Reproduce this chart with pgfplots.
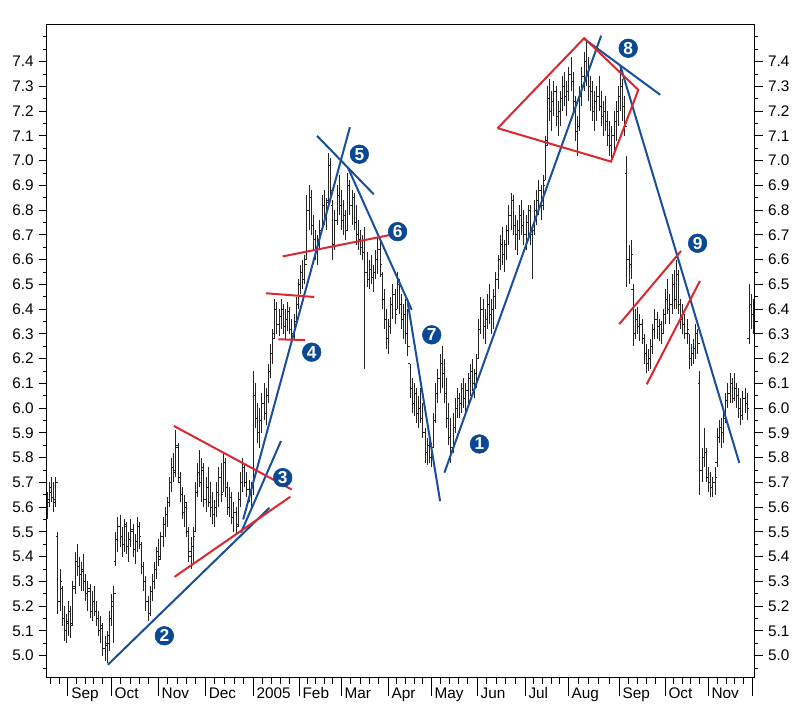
\documentclass[border=0pt]{standalone}
\usepackage{fontspec}
\setmainfont{Liberation Sans}
\usepackage{pgfplots}
\usepackage{pgfplotstable}
\pgfplotsset{compat=1.18}
\definecolor{lblue}{RGB}{24,78,154}
\definecolor{cblue}{RGB}{10,72,148}
\definecolor{lred}{RGB}{218,40,48}
\definecolor{barc}{RGB}{35,35,35}

\pgfplotstableread{
d h l o c
0 5.66 5.55 5.58 5.63
1 5.70 5.60 5.62 5.68
2 5.72 5.62 5.66 5.64
3 5.70 5.58 5.64 5.62
4 5.72 5.60 5.63 5.70
5 5.50 5.17 5.48 5.22
6 5.35 5.18 5.22 5.30
7 5.28 5.12 5.27 5.15
8 5.20 5.06 5.15 5.10
9 5.17 5.05 5.10 5.14
10 5.22 5.08 5.13 5.18
11 5.20 5.07 5.18 5.12
12 5.30 5.12 5.13 5.27
13 5.42 5.25 5.28 5.38
14 5.45 5.32 5.38 5.36
15 5.40 5.28 5.36 5.33
16 5.38 5.26 5.33 5.35
17 5.41 5.26 5.34 5.30
18 5.33 5.22 5.30 5.25
19 5.30 5.18 5.25 5.27
20 5.29 5.15 5.26 5.18
21 5.26 5.14 5.18 5.22
22 5.28 5.16 5.22 5.18
23 5.22 5.12 5.18 5.15
24 5.18 5.08 5.15 5.10
25 5.16 5.05 5.10 5.12
26 5.13 5.00 5.11 5.03
27 5.08 4.98 5.03 5.05
28 5.10 4.97 5.04 5.08
29 5.18 5.02 5.05 5.15
30 5.25 5.12 5.15 5.22
31 5.28 5.05 5.20 5.25
32 5.50 5.36 5.38 5.47
33 5.56 5.42 5.47 5.52
34 5.57 5.44 5.52 5.48
35 5.52 5.40 5.48 5.45
36 5.55 5.42 5.45 5.53
37 5.54 5.41 5.52 5.44
38 5.50 5.38 5.44 5.47
39 5.55 5.44 5.47 5.51
40 5.53 5.40 5.50 5.43
41 5.49 5.37 5.43 5.46
42 5.56 5.42 5.46 5.52
43 5.54 5.43 5.52 5.48
44 5.46 5.33 5.45 5.36
45 5.38 5.26 5.36 5.30
46 5.32 5.18 5.30 5.22
47 5.24 5.14 5.22 5.17
48 5.28 5.16 5.17 5.26
49 5.33 5.22 5.26 5.30
50 5.38 5.27 5.30 5.35
51 5.44 5.31 5.35 5.42
52 5.47 5.36 5.42 5.39
53 5.50 5.39 5.40 5.48
54 5.56 5.44 5.48 5.53
55 5.60 5.48 5.53 5.57
56 5.64 5.52 5.57 5.62
57 5.72 5.60 5.62 5.70
58 5.80 5.66 5.70 5.76
59 5.82 5.70 5.76 5.74
60 5.91 5.72 5.75 5.85
61 5.86 5.70 5.84 5.72
62 5.74 5.62 5.70 5.65
63 5.68 5.55 5.65 5.58
64 5.65 5.52 5.58 5.62
65 5.62 5.48 5.60 5.50
66 5.52 5.38 5.50 5.42
67 5.48 5.35 5.40 5.44
68 5.52 5.37 5.44 5.48
69 5.70 5.50 5.50 5.66
70 5.78 5.64 5.66 5.74
71 5.83 5.68 5.74 5.70
72 5.80 5.62 5.70 5.76
73 5.78 5.60 5.75 5.63
74 5.72 5.58 5.63 5.68
75 5.76 5.60 5.68 5.62
76 5.70 5.56 5.62 5.60
77 5.66 5.53 5.60 5.57
78 5.63 5.52 5.57 5.60
79 5.70 5.56 5.60 5.66
80 5.76 5.60 5.66 5.72
81 5.78 5.62 5.72 5.65
82 5.82 5.66 5.66 5.78
83 5.80 5.64 5.78 5.68
84 5.70 5.57 5.68 5.60
85 5.68 5.56 5.60 5.64
86 5.66 5.53 5.64 5.56
87 5.62 5.50 5.56 5.58
88 5.60 5.49 5.58 5.52
89 5.66 5.52 5.53 5.63
90 5.74 5.60 5.63 5.70
91 5.80 5.66 5.70 5.76
92 5.78 5.68 5.76 5.70
93 5.74 5.64 5.70 5.67
94 5.71 5.62 5.67 5.66
95 5.70 5.60 5.66 5.68
96 6.15 5.65 5.68 6.05
97 6.10 5.92 6.05 5.96
98 6.02 5.86 5.96 5.90
99 6.00 5.84 5.90 5.95
100 6.06 5.90 5.95 6.02
101 6.10 5.95 6.02 5.98
102 6.08 5.93 5.98 6.05
103 6.18 6.02 6.05 6.15
104 6.26 6.12 6.15 6.22
105 6.32 6.18 6.22 6.28
106 6.44 6.28 6.30 6.40
107 6.43 6.30 6.40 6.34
108 6.40 6.29 6.34 6.37
109 6.44 6.32 6.37 6.40
110 6.42 6.30 6.40 6.33
111 6.40 6.28 6.33 6.36
112 6.43 6.31 6.36 6.39
113 6.41 6.30 6.39 6.32
114 6.36 6.27 6.32 6.30
115 6.38 6.28 6.30 6.35
116 6.45 6.33 6.35 6.42
117 6.52 6.40 6.42 6.50
118 6.58 6.46 6.50 6.55
119 6.60 6.48 6.55 6.52
120 6.62 6.50 6.52 6.58
121 6.86 6.60 6.60 6.80
122 6.90 6.72 6.80 6.85
123 6.88 6.70 6.85 6.74
124 6.78 6.64 6.74 6.68
125 6.72 6.60 6.68 6.64
126 6.70 6.58 6.64 6.68
127 6.76 6.64 6.68 6.72
128 6.86 6.72 6.72 6.82
129 6.88 6.74 6.82 6.78
130 6.85 6.72 6.78 6.83
131 7.03 6.82 6.84 6.98
132 7.01 6.84 6.98 6.88
133 6.84 6.60 6.82 6.66
134 6.80 6.64 6.66 6.76
135 6.90 6.74 6.76 6.86
136 6.94 6.78 6.86 6.82
137 6.88 6.72 6.82 6.76
138 6.84 6.70 6.76 6.78
139 6.80 6.68 6.78 6.72
140 6.95 6.72 6.72 6.90
141 6.92 6.78 6.90 6.82
142 6.88 6.74 6.82 6.85
143 6.87 6.72 6.85 6.75
144 6.82 6.66 6.75 6.70
145 6.76 6.64 6.70 6.68
146 6.72 6.62 6.68 6.65
147 6.70 6.60 6.65 6.63
148 6.73 6.16 6.63 6.55
149 6.63 6.49 6.55 6.52
150 6.60 6.48 6.52 6.56
151 6.62 6.50 6.56 6.53
152 6.58 6.47 6.53 6.55
153 6.64 6.52 6.55 6.60
154 6.69 6.54 6.60 6.64
155 6.68 6.53 6.64 6.58
156 6.55 6.40 6.54 6.44
157 6.48 6.32 6.44 6.36
158 6.40 6.24 6.36 6.28
159 6.36 6.22 6.28 6.33
160 6.45 6.30 6.33 6.42
161 6.50 6.36 6.42 6.46
162 6.48 6.34 6.46 6.38
163 6.55 6.40 6.40 6.50
164 6.52 6.38 6.50 6.42
165 6.46 6.32 6.42 6.36
166 6.42 6.28 6.36 6.38
167 6.44 6.26 6.38 6.30
168 6.40 6.21 6.30 6.25
169 6.18 6.04 6.18 6.08
170 6.12 5.98 6.08 6.02
171 6.10 5.97 6.02 6.06
172 6.08 5.94 6.06 5.98
173 6.05 5.92 5.98 6.00
174 6.08 5.94 6.00 5.96
175 6.02 5.88 5.96 5.90
176 5.92 5.78 5.90 5.82
177 5.88 5.77 5.82 5.85
178 5.90 5.78 5.85 5.80
179 5.86 5.76 5.80 5.84
180 5.98 5.84 5.84 5.95
181 6.10 5.94 5.95 6.06
182 6.16 6.02 6.06 6.12
183 6.22 6.06 6.12 6.18
184 6.25 6.08 6.18 6.14
185 6.20 6.02 6.14 6.06
186 6.12 5.92 6.06 5.96
187 6.02 5.85 5.96 5.88
188 5.96 5.78 5.88 5.84
189 5.98 5.82 5.84 5.92
190 6.04 5.90 5.92 6.00
191 6.08 5.96 6.00 6.04
192 6.06 5.96 6.04 6.02
193 6.10 5.98 6.02 6.08
194 6.12 6.00 6.08 6.04
195 6.10 5.98 6.04 6.07
196 6.14 6.02 6.07 6.12
197 6.18 6.05 6.12 6.15
198 6.20 6.07 6.15 6.10
199 6.16 6.04 6.10 6.14
200 6.22 6.08 6.14 6.20
201 6.36 6.20 6.20 6.32
202 6.45 6.30 6.32 6.40
203 6.44 6.28 6.40 6.33
204 6.40 6.26 6.33 6.36
205 6.46 6.32 6.36 6.42
206 6.50 6.34 6.42 6.38
207 6.44 6.30 6.38 6.40
208 6.48 6.32 6.40 6.45
209 6.55 6.40 6.45 6.52
210 6.62 6.48 6.52 6.60
211 6.70 6.56 6.60 6.66
212 6.73 6.58 6.66 6.62
213 6.68 6.55 6.62 6.66
214 6.74 6.60 6.66 6.72
215 6.82 6.66 6.72 6.78
216 6.87 6.72 6.78 6.84
217 6.86 6.70 6.84 6.74
218 6.78 6.64 6.74 6.70
219 6.76 6.62 6.70 6.72
220 6.82 6.68 6.72 6.78
221 6.84 6.70 6.78 6.74
222 6.80 6.66 6.74 6.70
223 6.78 6.64 6.70 6.75
224 6.82 6.68 6.75 6.80
225 6.82 6.66 6.80 6.70
226 6.74 6.52 6.70 6.72
227 6.84 6.70 6.72 6.80
228 6.88 6.74 6.80 6.84
229 6.92 6.78 6.84 6.88
230 6.90 6.76 6.88 6.82
231 6.94 6.80 6.82 6.90
232 7.10 6.92 6.92 7.06
233 7.30 7.06 7.08 7.25
234 7.33 7.16 7.25 7.20
235 7.28 7.12 7.20 7.24
236 7.32 7.18 7.24 7.28
237 7.30 7.14 7.28 7.18
238 7.24 7.10 7.18 7.20
239 7.28 7.14 7.20 7.25
240 7.34 7.20 7.25 7.30
241 7.36 7.22 7.30 7.26
242 7.32 7.18 7.26 7.28
243 7.38 7.24 7.28 7.35
244 7.42 7.28 7.35 7.32
245 7.36 7.20 7.32 7.24
246 7.26 7.08 7.24 7.12
247 7.18 7.02 7.12 7.14
248 7.30 7.12 7.14 7.26
249 7.38 7.22 7.26 7.34
250 7.44 7.28 7.34 7.40
251 7.49 7.30 7.40 7.36
252 7.42 7.24 7.36 7.30
253 7.34 7.20 7.30 7.28
254 7.32 7.16 7.28 7.20
255 7.28 7.12 7.20 7.24
256 7.30 7.16 7.24 7.26
257 7.34 7.20 7.26 7.22
258 7.28 7.14 7.22 7.18
259 7.24 7.10 7.18 7.20
260 7.26 7.12 7.20 7.16
261 7.20 7.06 7.16 7.10
262 7.16 7.02 7.10 7.06
263 7.14 7.00 7.06 7.10
264 7.20 7.04 7.10 7.16
265 7.24 7.08 7.16 7.20
266 7.30 7.14 7.20 7.26
267 7.37 7.20 7.26 7.30
268 7.33 7.16 7.30 7.22
269 7.26 7.10 7.22 7.14
270 7.02 6.49 6.95 6.60
271 6.66 6.50 6.60 6.58
272 6.68 6.52 6.58 6.62
273 6.50 6.25 6.48 6.30
274 6.40 6.28 6.30 6.36
275 6.41 6.30 6.36 6.33
276 6.38 6.27 6.33 6.34
277 6.36 6.26 6.34 6.28
278 6.30 6.18 6.28 6.22
279 6.26 6.14 6.22 6.18
280 6.24 6.15 6.18 6.20
281 6.28 6.16 6.20 6.25
282 6.34 6.22 6.25 6.32
283 6.40 6.28 6.32 6.36
284 6.39 6.28 6.36 6.33
285 6.36 6.27 6.33 6.34
286 6.35 6.26 6.34 6.30
287 6.40 6.30 6.30 6.38
288 6.48 6.34 6.38 6.44
289 6.52 6.38 6.44 6.40
290 6.46 6.34 6.40 6.42
291 6.54 6.38 6.42 6.50
292 6.56 6.40 6.50 6.44
293 6.60 6.40 6.44 6.54
294 6.56 6.38 6.54 6.42
295 6.44 6.32 6.42 6.36
296 6.42 6.30 6.36 6.34
297 6.38 6.28 6.34 6.30
298 6.36 6.26 6.30 6.32
299 6.30 6.16 6.30 6.20
300 6.26 6.17 6.20 6.22
301 6.28 6.18 6.22 6.24
302 6.34 6.20 6.24 6.30
303 6.32 6.22 6.30 6.26
304 6.15 5.65 6.10 5.75
305 5.84 5.70 5.75 5.80
306 5.92 5.76 5.80 5.82
307 5.84 5.70 5.82 5.72
308 5.76 5.66 5.72 5.70
309 5.74 5.64 5.70 5.68
310 5.72 5.64 5.68 5.70
311 5.76 5.65 5.70 5.72
312 5.92 5.76 5.78 5.88
313 5.95 5.86 5.88 5.92
314 5.96 5.84 5.92 5.90
315 6.00 5.86 5.90 5.96
316 6.06 5.94 5.96 6.03
317 6.10 6.00 6.03 6.06
318 6.14 6.02 6.06 6.10
319 6.12 6.02 6.10 6.04
320 6.14 6.03 6.04 6.08
321 6.10 6.00 6.08 6.05
322 6.08 5.96 6.05 6.00
323 6.04 5.93 6.00 5.97
324 6.07 5.95 5.97 6.04
325 6.08 5.98 6.04 6.02
326 6.06 5.95 6.02 6.00
327 6.50 6.26 6.28 6.42
328 6.46 6.32 6.42 6.38
329 6.44 6.30 6.38 6.40
}\ohlc

\pgfplotstableread{
x y lab
201.3 5.855 1
54.6 5.080 2
109.7 5.719 3
123.2 6.226 4
145.4 7.026 5
163.2 6.713 6
179.1 6.296 7
270.6 7.454 8
302.9 6.666 9
}\circles

\pgfplotsset{
  mybox/.style={
    scale only axis, width=531.2pt, height=490pt,
    xmin=-0.2, xmax=329.6, ymin=4.911, ymax=7.551,
    axis line style={black, line width=0.7pt},
    tick align=outside,
    tick style={black, line width=0.6pt},
    ytick={5.0,5.1,5.2,5.3,5.4,5.5,5.6,5.7,5.8,5.9,6.0,6.1,6.2,6.3,6.4,6.5,6.6,6.7,6.8,6.9,7.0,7.1,7.2,7.3,7.4},
    minor ytick={4.95,5.05,5.15,5.25,5.35,5.45,5.55,5.65,5.75,5.85,5.95,6.05,6.15,6.25,6.35,6.45,6.55,6.65,6.75,6.85,6.95,7.05,7.15,7.25,7.35,7.45,7.5},
    ytick style={/pgfplots/major tick length=6pt, /pgfplots/minor tick length=2.6pt},
    yticklabel style={/pgf/number format/fixed, /pgf/number format/fixed zerofill, /pgf/number format/precision=1},
    /pgf/number format/assume math mode=true,
    tick label style={font=\fontsize{11.5}{13}\selectfont},
  }
}

\begin{document}
\begin{tikzpicture}
\begin{axis}[mybox,
  xtick pos=bottom, ytick pos=left,
  xtick={9.6,29.8,51.7,73.6,95.9,117.3,136.9,158.8,178.8,200.2,222.5,242.6,266.3,287.7,307.7,328.6},
  xticklabels={Sep,Oct,Nov,Dec,2005,Feb,Mar,Apr,May,Jun,Jul,Aug,Sep,Oct,Nov,{}},
  minor xtick={1.4,5.5,13.6,17.7,21.7,25.8,34.2,38.6,42.9,47.3,56.1,60.5,64.8,69.2,78.1,82.5,87.0,91.4,100.2,104.5,108.7,113.0,121.2,125.1,129.1,133.0,141.3,145.7,150.0,154.4,162.8,166.8,170.8,174.8,183.1,187.4,191.6,195.9,204.7,209.1,213.6,218.0,226.5,230.5,234.6,238.6,247.3,252.1,256.8,261.6,270.6,274.9,279.1,283.4,291.7,295.7,299.7,303.7,311.9,316.1,320.2,324.4},
  xtick style={/pgfplots/major tick length=14pt, /pgfplots/minor tick length=4.5pt},
  xticklabel style={anchor=north west, inner sep=0pt, xshift=2.5pt, yshift=-3pt},
  yticklabel style={xshift=-2pt},
]
% OHLC bars
\addplot[barc, line width=0.7pt, no markers, quiver={u=0, v=\thisrow{h}-\thisrow{l}}] table[x=d, y=l] {\ohlc};
\addplot[barc, line width=0.6pt, no markers, quiver={u=-0.9, v=0}] table[x=d, y=o] {\ohlc};
\addplot[barc, line width=0.6pt, no markers, quiver={u=0.9, v=0}] table[x=d, y=c] {\ohlc};
% blue trend lines
\addplot[lblue, line width=1.5pt] coordinates {(28.3,4.963) (103.5,5.597)};
\addplot[lblue, line width=1.5pt] coordinates {(90.3,5.497) (108.9,5.867)};
\addplot[lblue, line width=1.5pt] coordinates {(91.3,5.55) (141,7.135)};
\addplot[lblue, line width=1.5pt] coordinates {(125.7,7.10) (152.1,6.864)};
\addplot[lblue, line width=1.5pt] coordinates {(140,6.973) (169.8,6.397)};
\addplot[lblue, line width=1.5pt] coordinates {(167.9,6.427) (183,5.624)};
\addplot[lblue, line width=1.5pt] coordinates {(185,5.739) (258,7.505)};
\addplot[lblue, line width=1.5pt] coordinates {(250.1,7.492) (285.5,7.266)};
\addplot[lblue, line width=1.5pt] coordinates {(266.9,7.384) (322.3,5.779)};
% red pattern lines
\addplot[lred, line width=1.5pt] coordinates {(59,5.928) (113.9,5.671)};
\addplot[lred, line width=1.5pt] coordinates {(59.3,5.318) (113.3,5.642)};
\addplot[lred, line width=1.5pt] coordinates {(101.9,6.464) (124.4,6.449)};
\addplot[lred, line width=1.5pt] coordinates {(107.7,6.278) (120.1,6.275)};
\addplot[lred, line width=1.5pt] coordinates {(109.7,6.613) (159.4,6.699)};
\addplot[lred, line width=1.5pt] coordinates {(209.8,7.131) (250.1,7.495) (275.3,7.286) (262.6,6.996) (209.8,7.131)};
\addplot[lred, line width=1.5pt] coordinates {(266.4,6.339) (295.2,6.635)};
\addplot[lred, line width=1.5pt] coordinates {(279.2,6.096) (304,6.514)};
% numbered markers
\addplot[only marks, mark=*, mark size=7pt, mark options={fill=cblue, draw=cblue},
  point meta=explicit symbolic, nodes near coords,
  every node near coord/.append style={anchor=center, text=white, inner sep=0pt,
    font=\bfseries\fontsize{13}{13}\selectfont}]
  table[x=x, y=y, meta=lab] {\circles};
\end{axis}
\begin{axis}[mybox,
  axis x line=none, axis y line*=right,
  yticklabel pos=right,
  yticklabel style={xshift=2pt},
]
\end{axis}
\path[use as bounding box] (-35pt,-25pt) rectangle (565pt,508.2pt);
\end{tikzpicture}
\end{document}
